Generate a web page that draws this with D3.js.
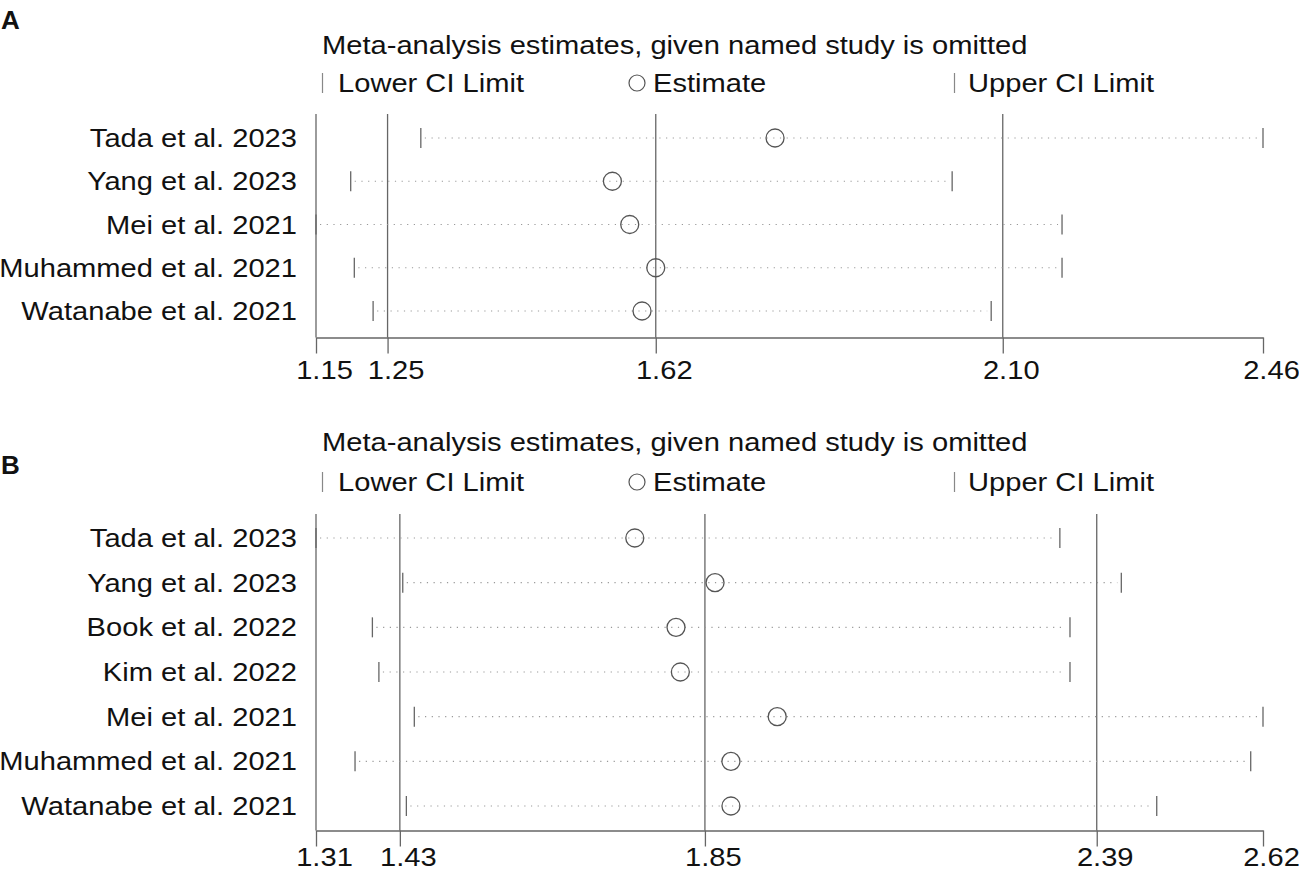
<!DOCTYPE html>
<html>
<head>
<meta charset="utf-8">
<script src="https://cdn.jsdelivr.net/npm/d3@7"></script>
<style>
  body { margin: 0; background: #fff; }
  text { font-family: "Liberation Sans", Arial, sans-serif; fill: #111; }
</style>
</head>
<body>
<svg id="chart" width="1299" height="872"></svg>
<script>
// panel A
const studiesA = ["Tada et al. 2023", "Yang et al. 2023", "Mei et al. 2021", "Muhammed et al. 2021", "Watanabe et al. 2021"];
const lowerA = [1.295, 1.198, 1.150, 1.203, 1.229];
const estA   = [1.785, 1.560, 1.584, 1.620, 1.601];
const upperA = [2.460, 2.030, 2.182, 2.182, 2.084];
// tick positions as drawn (labels are these rounded to 2 decimals)
const ticksA = [1.15, 1.249, 1.62, 2.10, 2.46];
const refA   = [1.15, 1.249, 1.62, 2.10];

// panel B
const studiesB = ["Tada et al. 2023", "Yang et al. 2023", "Book et al. 2022", "Kim et al. 2022", "Mei et al. 2021", "Muhammed et al. 2021", "Watanabe et al. 2021"];
const lowerB = [1.310, 1.430, 1.388, 1.397, 1.446, 1.364, 1.435];
const estB   = [1.751, 1.862, 1.808, 1.814, 1.948, 1.884, 1.884];
const upperB = [2.339, 2.424, 2.353, 2.353, 2.620, 2.603, 2.473];
const ticksB = [1.31, 1.426, 1.848, 2.39, 2.62];
const refB   = [1.31, 1.426, 1.848, 2.39];

const titleText = "Meta-analysis estimates, given named study is omitted";

const svg = d3.select("#chart");
const left = 316, right = 1263;
const lineColor = "#666";
const stretch = 1.12; // the source type is a bit wider than Liberation Sans

function label(g, x, y, str, anchor) {
  return g.append("text")
    .attr("transform", `translate(${x},${y}) scale(${stretch},1)`)
    .attr("text-anchor", anchor || "start")
    .style("font-size", "26px")
    .text(str);
}

function drawPanel(cfg) {
  const g = svg.append("g");
  const x = d3.scaleLinear().domain([cfg.ticks[0], cfg.ticks[cfg.ticks.length - 1]]).range([left, right]);
  const y = d3.scalePoint().domain(cfg.studies).range(cfg.rowRange);

  // panel letter
  g.append("text").attr("x", 1).attr("y", cfg.letterY)
    .style("font-size", "26px").style("font-weight", "bold").text(cfg.letter);

  // title + legend
  label(g, 322, cfg.titleY, titleText);
  const ly = cfg.legendY;
  g.append("line").attr("x1", 322.5).attr("x2", 322.5).attr("y1", ly - 19).attr("y2", ly + 1)
    .attr("stroke", "#888").attr("stroke-width", 1.2);
  label(g, 338, ly, "Lower CI Limit");
  g.append("circle").attr("cx", 637).attr("cy", ly - 9).attr("r", 8)
    .attr("fill", "none").attr("stroke", "#555").attr("stroke-width", 1.2);
  label(g, 653, ly, "Estimate");
  g.append("line").attr("x1", 954.5).attr("x2", 954.5).attr("y1", ly - 19).attr("y2", ly + 1)
    .attr("stroke", "#888").attr("stroke-width", 1.2);
  label(g, 968, ly, "Upper CI Limit");

  // reference lines
  g.selectAll(".ref").data(cfg.refs).join("line")
    .attr("x1", d => x(d)).attr("x2", d => x(d))
    .attr("y1", cfg.lineTop).attr("y2", cfg.axisY)
    .attr("stroke", lineColor).attr("stroke-width", 1.3);

  // axis
  const axis = d3.axisBottom(x).tickValues(cfg.ticks).tickFormat(d3.format(".2f"))
    .tickSize(16).tickSizeOuter(0).tickPadding(0);
  const ax = g.append("g").attr("transform", `translate(0,${cfg.axisY})`).call(axis);
  ax.select(".domain").attr("stroke", lineColor).attr("stroke-width", 1.3);
  ax.selectAll(".tick line").attr("stroke", lineColor).attr("stroke-width", 1.3);
  ax.selectAll(".tick text")
    .attr("y", null).attr("dy", null)
    .attr("transform", `translate(8,${cfg.tickBase}) scale(${stretch},1)`)
    .style("font-size", "26px").attr("fill", "#111");

  const rows = cfg.studies.map((s, i) => ({ s, lo: cfg.lower[i], est: cfg.est[i], hi: cfg.upper[i] }));

  // study labels
  rows.forEach(d => label(g, 297, y(d.s) + 9, d.s, "end"));

  // dotted CI lines
  g.selectAll(".ci").data(rows).join("line")
    .attr("x1", d => x(d.lo) + 4).attr("x2", d => x(d.hi) - 4)
    .attr("y1", d => y(d.s)).attr("y2", d => y(d.s))
    .attr("stroke", "#999").attr("stroke-width", 1.1).attr("stroke-dasharray", "1.2 5.5");

  // caps
  ["lo", "hi"].forEach(k => {
    g.selectAll(".cap-" + k).data(rows).join("line")
      .attr("x1", d => x(d[k])).attr("x2", d => x(d[k]))
      .attr("y1", d => y(d.s) - 10).attr("y2", d => y(d.s) + 10)
      .attr("stroke", "#666").attr("stroke-width", 1.3);
  });

  // estimates
  g.selectAll(".est").data(rows).join("circle")
    .attr("cx", d => x(d.est)).attr("cy", d => y(d.s)).attr("r", 9)
    .attr("fill", "none").attr("stroke", "#555").attr("stroke-width", 1.3);
}

drawPanel({
  letter: "A", letterY: 29, titleY: 54, legendY: 92,
  studies: studiesA, lower: lowerA, est: estA, upper: upperA,
  ticks: ticksA, refs: refA, rowRange: [138, 311], lineTop: 114, axisY: 337.5, tickBase: 41
});

drawPanel({
  letter: "B", letterY: 474, titleY: 451, legendY: 491,
  studies: studiesB, lower: lowerB, est: estB, upper: upperB,
  ticks: ticksB, refs: refB, rowRange: [538, 806], lineTop: 514, axisY: 830.5, tickBase: 35
});
</script>
</body>
</html>
